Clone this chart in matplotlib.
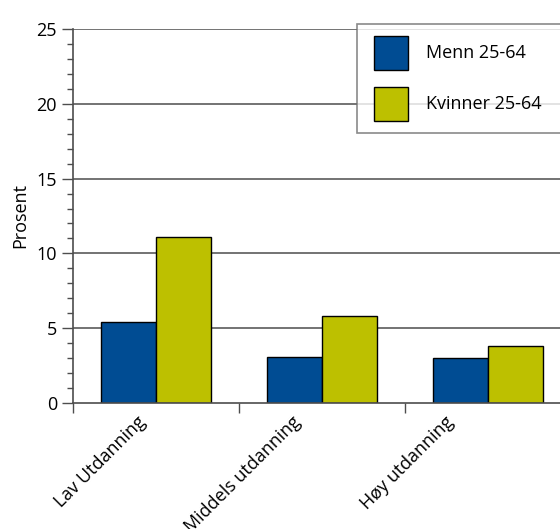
import matplotlib
matplotlib.use("Agg")
import matplotlib.pyplot as plt
import matplotlib.transforms as mtransforms
from matplotlib.patches import Patch, Rectangle
from matplotlib.legend_handler import HandlerPatch
import numpy as np

categories = ["Lav Utdanning", "Middels utdanning", "Høy utdanning"]
series_names = ["Menn 25-64", "Kvinner 25-64"]
menn = [5.4, 3.1, 3.0]
kvinner = [11.1, 5.8, 3.8]
colors = ["#004C93", "#BDC000"]

plt.rcParams["font.family"] = ["Open Sans", "DejaVu Sans"]
FS = 13

fig = plt.figure(figsize=(5.6, 5.29), dpi=100)
W, H = 560, 529
ax = fig.add_axes([73 / W, 126 / H, (571 - 73) / W, 374 / H])

x = np.arange(len(categories)) + 0.5
bw = 1 / 3
ax.bar(x - bw / 2, menn, width=bw, color=colors[0], edgecolor="black", linewidth=1.0, zorder=3)
ax.bar(x + bw / 2, kvinner, width=bw, color=colors[1], edgecolor="black", linewidth=1.0, zorder=3)

ax.set_xlim(0, len(categories))
ax.set_ylim(0, 25)

# horizontal grid
for yv in [5, 10, 15, 20, 25]:
    ax.axhline(yv, color="#4d4d4d", linewidth=1.1, zorder=1)

ax.set_yticks([0, 5, 10, 15, 20, 25])
ax.set_yticks(np.arange(0, 26, 1), minor=True)
ax.tick_params(axis="y", which="major", length=8, width=1, color="#4d4d4d", pad=3.5, labelsize=FS)
ax.tick_params(axis="y", which="minor", length=4, width=1, color="#4d4d4d")

ax.set_xticks(np.arange(len(categories) + 1))
ax.set_xticklabels([])
ax.set_xticks(x, minor=True)
ax.set_xticklabels(categories, minor=True, rotation=45, ha="right", va="top",
                   rotation_mode="anchor", fontsize=FS)
ax.tick_params(axis="x", which="major", length=7, width=1, color="#4d4d4d")
ax.tick_params(axis="x", which="minor", length=0, pad=7)

# nudge the category labels to the left
for lbl, dx in zip(ax.get_xticklabels(minor=True), [-19, -30, -43]):
    lbl.set_transform(lbl.get_transform() + mtransforms.ScaledTranslation(dx / 100, 0, fig.dpi_scale_trans))

for side in ["top", "right"]:
    ax.spines[side].set_visible(False)
for side in ["left", "bottom"]:
    ax.spines[side].set_color("#4d4d4d")
    ax.spines[side].set_linewidth(1.2)
    ax.spines[side].set_zorder(4)

ax.set_ylabel("Prosent", fontsize=FS, labelpad=5)


def inset_patch(legend, orig_handle, xdescent, ydescent, width, height, fontsize):
    off = width * 5 / 39
    return Rectangle((-xdescent + off, -ydescent), width - off, height)


handles = [Patch(facecolor=c, edgecolor="black", linewidth=1.0) for c in colors]
fpx = FS * 100 / 72
hh = (34 / fpx - 0.245) / 0.65
leg = fig.legend(handles, series_names, loc="upper left",
                 bbox_to_anchor=(357 / W, 1 - 29 / H, (600 - 357) / W, 0.01),
                 mode="expand", fontsize=FS, frameon=True, fancybox=False,
                 handlelength=39 / fpx, handleheight=hh, labelspacing=17 / fpx,
                 handletextpad=18 / fpx, borderpad=12 / fpx, borderaxespad=0,
                 handler_map={Patch: HandlerPatch(patch_func=inset_patch)})
leg.get_frame().set_edgecolor("#6d6d6d")
leg.get_frame().set_linewidth(1.2)

fig.savefig("out.png", dpi=100)
